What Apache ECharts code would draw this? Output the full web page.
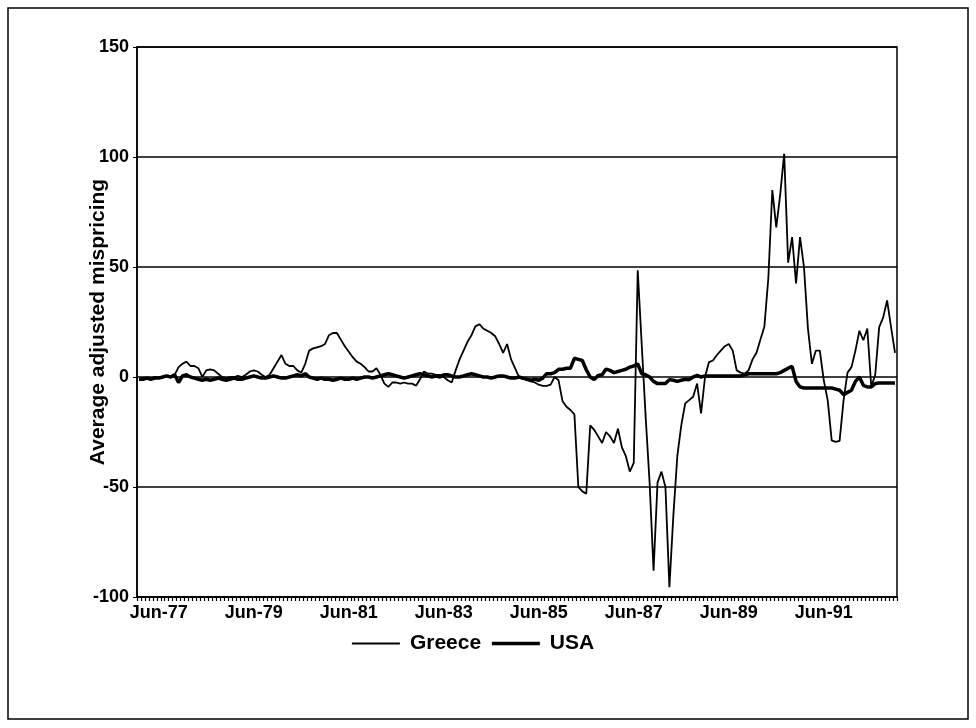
<!DOCTYPE html>
<html>
<head>
<meta charset="utf-8">
<script src="https://cdn.jsdelivr.net/npm/echarts@6/dist/echarts.min.js"></script>
<style>
html,body{margin:0;padding:0;background:#fff;}
#chart{width:976px;height:728px;}
</style>
</head>
<body>
<div id="chart"></div>
<script>
// Monthly categories, Jan-77 .. Dec-92
var monthNames = ["Jan","Feb","Mar","Apr","May","Jun","Jul","Aug","Sep","Oct","Nov","Dec"];
var years = ["77","78","79","80","81","82","83","84","85","86","87","88","89","90","91","92"];
var categories = [];
years.forEach(function (y) { monthNames.forEach(function (m) { categories.push(m + "-" + y); }); });

var yTicks = [-100, -50, 0, 50, 100, 150];

var greece = [
 -1,-0.5,-1,-0.5,0,-0.5,0,0.5,0,1,4.5,6,
 7,5,5,4,0,3,3.5,3,1.5,0,-0.5,0,
 0,0.5,0,1,2.5,3,2.5,1,0,1,4,7,
 10,6,5,5,3,2,6,12,13,13.5,14,15,
 19,20,20,17,14,11.5,9,7,6,4.5,2.5,2.5,
 4,1,-3,-4.5,-2.5,-2.5,-3,-2.5,-3,-3,-4,-1,
 2.5,1.5,1.5,1,1,0,-1.5,-2.5,3,8,12,16,
 19,23,24,22,21,20,18.5,15,11,15,8,4,
 0,-1,-1,-2,-2.5,-3.5,-4,-4,-3.5,0,-1.5,-11,
 -13.5,-15,-17,-50,-52,-53,-22,-24,-27,-30,-25,-27,
 -30,-23.5,-32,-36,-43,-39,48.5,15,-18,-48,-88,-48,
 -43,-50,-95.5,-63,-36,-22,-12,-10.5,-9,-3,-16.5,0,
 6.8,7.5,10,12,14,15,12,3,2,1.5,3,8,
 11,17,23,45,85,68,83,101.5,52,63.6,42.5,63.6,
 50,22,6,12,12,-1.5,-10.6,-28.8,-29.5,-29,-10.6,2,
 4.5,12,21,16.7,22,-4.5,1,22.7,27,34.8,22.7,11
];

var usa = [
 -1,-1,-0.5,-1,-0.5,-0.5,0,0.5,0,1,-2.5,0.5,
 1,0,-0.5,-1,-1.5,-1,-1.5,-1,-0.5,-1,-1.5,-1,
 -0.5,-1,-1,-0.5,0,0.5,0,-0.5,-0.5,0,0.5,0,
 -0.5,-0.5,0,0.5,1,0.5,1.5,0,-0.5,-1,-0.5,-1,
 -1,-1.5,-1,-0.5,-1,-1,-0.5,-1,-0.5,0,0,-0.5,
 0,0.5,1,1.5,1,0.5,0,-0.5,0,0.5,1,1.5,
 1,0.5,0,0.5,0,1,1,0.5,0,0,0.5,1,
 1.5,1,0.5,0,0,-0.5,0,0.5,0.5,0,-0.5,-0.5,
 0,-0.5,-1,-1.5,-1,-1.5,-0.5,1.5,1.5,2,3.5,3.5,
 4,4,8.5,8,7.5,3.3,0,-1.2,0.7,1,3.6,3,
 2,2.5,3,3.5,4.5,5,6,1.5,1,0,-2,-3,
 -3,-3,-1.2,-1.5,-2,-1.5,-1,-1.2,0,0.7,0,0.5,
 0.5,0.5,0.5,0.5,0.5,0.5,0.5,0.5,0.5,1,1.5,1.5,
 1.5,1.5,1.5,1.5,1.5,1.5,2,3,4,4.8,-2,-4.5,
 -5,-5,-5,-5,-5,-5,-5,-5,-5.5,-6,-8,-7,
 -6,-2,0,-3.8,-4.5,-4.5,-3,-2.7,-2.7,-2.7,-2.7,-2.7
];

var FONT = "'Liberation Sans', Arial, Helvetica, sans-serif";
var chart = echarts.init(document.getElementById('chart'), null, {renderer: 'canvas'});
chart.setOption({
  animation: false,
  backgroundColor: '#fff',
  textStyle: {fontFamily: FONT, color: '#000'},
  graphic: [{
    type: 'rect', silent: true, z: -1,
    shape: {x: 8, y: 8, width: 960, height: 711},
    style: {fill: null, stroke: '#000', lineWidth: 1.5}
  }],
  grid: {left: 137, right: 79, top: 47, bottom: 131, show: true, borderColor: '#000', borderWidth: 1.5, backgroundColor: 'transparent'},
  legend: {
    top: 628, left: 346, itemWidth: 48, itemHeight: 14, itemGap: 9,
    itemStyle: {opacity: 0},
    textStyle: {fontFamily: FONT, fontSize: 21, fontWeight: 'bold', color: '#000', padding: [0, 0, 0, 5]},
    data: [
      {name: 'Greece', lineStyle: {width: 1.8, color: '#000'}},
      {name: 'USA', lineStyle: {width: 3.5, color: '#000'}}
    ]
  },
  xAxis: {
    type: 'category', data: categories, boundaryGap: true,
    axisLine: {onZero: false, lineStyle: {color: '#000', width: 2}},
    axisTick: {show: true, interval: 0, length: 4, lineStyle: {color: '#000', width: 1.2}},
    axisLabel: {
      interval: function (idx) { return idx % 24 === 5; },
      fontSize: 18, fontWeight: 'bold', color: '#000', fontFamily: FONT, margin: 7
    },
    splitLine: {show: false}
  },
  yAxis: {
    type: 'value', min: yTicks[0], max: yTicks[yTicks.length - 1], interval: 50,
    name: 'Average adjusted mispricing', nameLocation: 'middle', nameGap: 28, nameRotate: 90,
    nameMoveOverlap: false,
    nameTextStyle: {fontSize: 21, fontWeight: 'bold', color: '#000', fontFamily: FONT},
    axisLine: {show: true, lineStyle: {color: '#000', width: 1.5}},
    axisTick: {show: true, length: 4, lineStyle: {color: '#000'}},
    axisLabel: {fontSize: 18, fontWeight: 'bold', color: '#000', fontFamily: FONT, margin: 8},
    splitLine: {show: true, lineStyle: {color: '#000', width: 1.5}}
  },
  series: [
    {name: 'Greece', type: 'line', data: greece, symbol: 'none', smooth: false,
     lineStyle: {color: '#000', width: 1.8}, itemStyle: {color: '#000'}, z: 3},
    {name: 'USA', type: 'line', data: usa, symbol: 'none', smooth: false,
     lineStyle: {color: '#000', width: 3.5}, itemStyle: {color: '#000'}, z: 2}
  ]
});
</script>
</body>
</html>
